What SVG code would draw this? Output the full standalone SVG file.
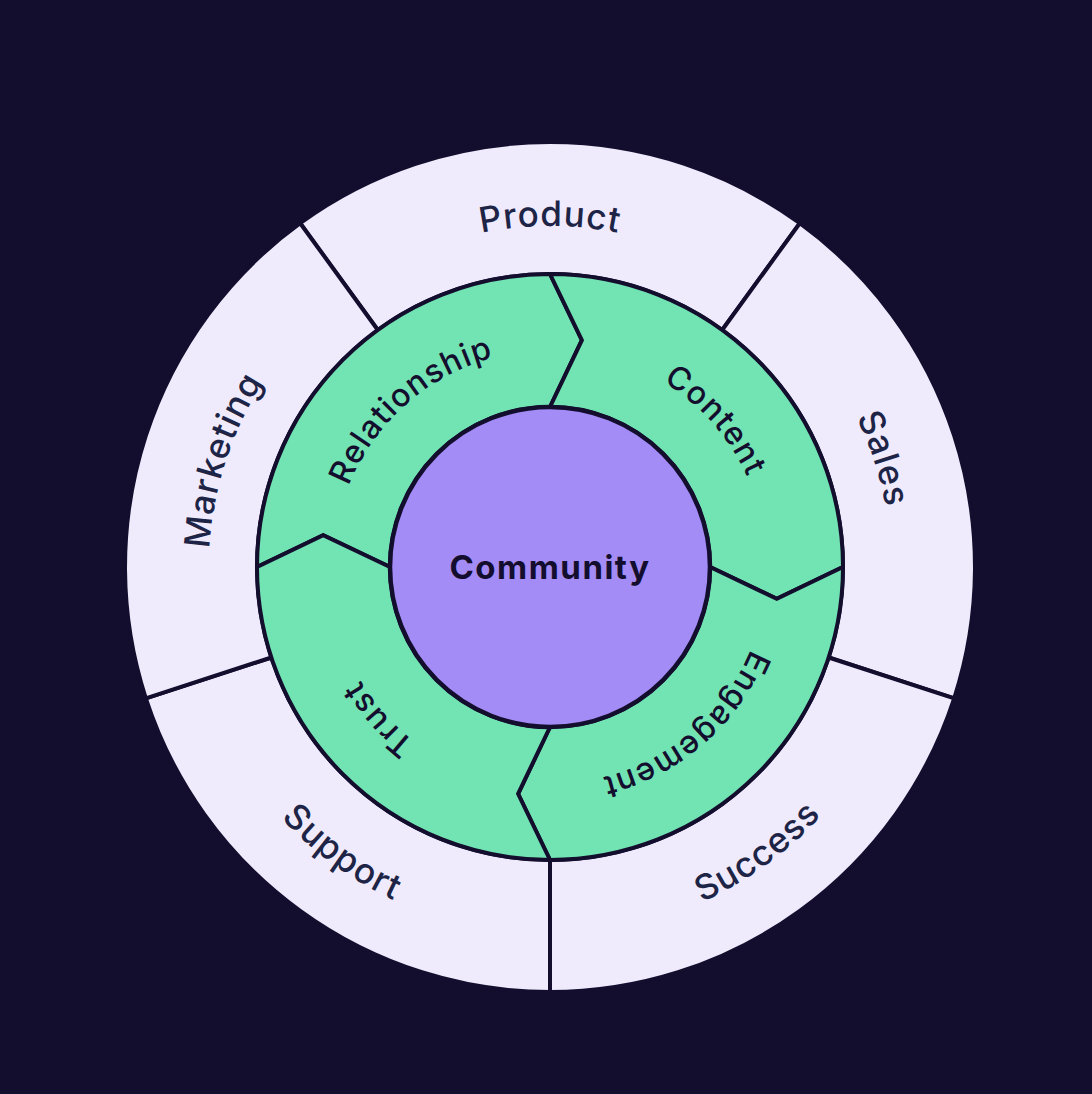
<svg xmlns="http://www.w3.org/2000/svg" width="1092" height="1094" viewBox="0 0 1092 1094">
<style>
.outer{fill:#efebfd;stroke:#140e2e;stroke-width:4;stroke-linejoin:round}
.seg{fill:#72e3b2;stroke:#140e2e;stroke-width:4;stroke-linejoin:miter}
.core{fill:#a48cf7;stroke:#140e2e;stroke-width:4.5}
.olbl{font-family:Inter,"Noto Sans",sans-serif;font-size:35px;font-weight:500;letter-spacing:1px;fill:#1e2446}
.glbl{font-family:Inter,"Noto Sans",sans-serif;font-size:32px;font-weight:500;letter-spacing:1.2px;fill:#140e2e}
.clbl{font-family:Inter,"Noto Sans",sans-serif;font-size:33px;font-weight:700;letter-spacing:1.5px;fill:#140e2e}
</style>
<defs>
<path id="pProduct" d="M288.8,347.8 A341,341 0 0 1 811.2,347.8"/>
<path id="pSales" d="M677.7,250.8 A341,341 0 0 1 839.2,747.7"/>
<path id="pMarketing" d="M260.8,747.7 A341,341 0 0 1 422.3,250.8"/>
<path id="pSupport" d="M182.9,592.7 A368,368 0 0 0 639.0,924.1"/>
<path id="pSuccess" d="M461.0,924.1 A368,368 0 0 0 917.1,592.7"/>
<path id="pRelationship" d="M337.35,610.26 A217,217 0 0 1 618.85,361.21"/>
<path id="pContent" d="M506.74,354.36 A217,217 0 0 1 755.79,635.85"/>
<path id="pEngagement" d="M763.23,526.71 A217,217 0 0 1 478.28,771.8"/>
<path id="pTrust" d="M594.06,783.56 A221,221 0 0 1 340.42,496.88"/>
</defs>
<rect width="1092" height="1094" fill="#140e2e"/>
<g id="product">
<path class="outer" d="M300.2,223.2 A425,425 0 0 1 799.8,223.2 L722.2,330 A293,293 0 0 0 377.8,330 Z"/>
<text class="olbl" text-anchor="middle"><textPath href="#pProduct" startOffset="50%">Product</textPath></text>
</g>
<g id="sales">
<path class="outer" d="M799.8,223.2 A425,425 0 0 1 954.2,698.3 L828.7,657.5 A293,293 0 0 0 722.2,330 Z"/>
<text class="olbl" text-anchor="middle"><textPath href="#pSales" startOffset="50%">Sales</textPath></text>
</g>
<g id="success">
<path class="outer" d="M954.2,698.3 A425,425 0 0 1 550,992 L550,860 A293,293 0 0 0 828.7,657.5 Z"/>
<text class="olbl" text-anchor="middle"><textPath href="#pSuccess" startOffset="50%">Success</textPath></text>
</g>
<g id="support">
<path class="outer" d="M550,992 A425,425 0 0 1 145.8,698.3 L271.3,657.5 A293,293 0 0 0 550,860 Z"/>
<text class="olbl" text-anchor="middle"><textPath href="#pSupport" startOffset="50%">Support</textPath></text>
</g>
<g id="marketing">
<path class="outer" d="M145.8,698.3 A425,425 0 0 1 300.2,223.2 L377.8,330 A293,293 0 0 0 271.3,657.5 Z"/>
<text class="olbl" text-anchor="middle"><textPath href="#pMarketing" startOffset="50%">Marketing</textPath></text>
</g>
<g id="relationship">
<path class="seg" d="M257,567 A293,293 0 0 1 550,274 L581.9,340.2 L550,407 A160,160 0 0 0 390,567 L323.2,535.1 Z"/>
<text class="glbl" text-anchor="middle"><textPath href="#pRelationship" startOffset="50%">Relationship</textPath></text>
</g>
<g id="content">
<path class="seg" d="M550,274 A293,293 0 0 1 843,567 L776.8,598.9 L710,567 A160,160 0 0 0 550,407 L581.9,340.2 Z"/>
<text class="glbl" text-anchor="middle"><textPath href="#pContent" startOffset="50%">Content</textPath></text>
</g>
<g id="engagement">
<path class="seg" d="M843,567 A293,293 0 0 1 550,860 L518.1,793.8 L550,727 A160,160 0 0 0 710,567 L776.8,598.9 Z"/>
<text class="glbl" text-anchor="middle"><textPath href="#pEngagement" startOffset="50%">Engagement</textPath></text>
</g>
<g id="trust">
<path class="seg" d="M550,860 A293,293 0 0 1 257,567 L323.2,535.1 L390,567 A160,160 0 0 0 550,727 L518.1,793.8 Z"/>
<text class="glbl" text-anchor="middle"><textPath href="#pTrust" startOffset="50%">Trust</textPath></text>
</g>
<g id="community">
<circle class="core" cx="550" cy="567" r="160"/>
<text class="clbl" x="550" y="579" text-anchor="middle">Community</text>
</g>
<g id="connectors"></g>
</svg>
